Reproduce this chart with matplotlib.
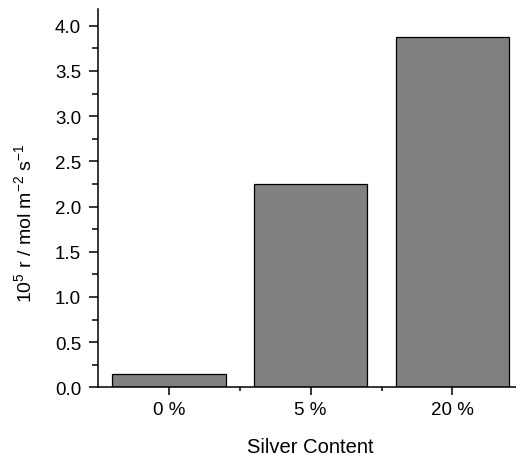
import matplotlib
matplotlib.use("Agg")
import matplotlib.pyplot as plt
from matplotlib.ticker import MultipleLocator, FixedLocator

categories = ["0 %", "5 %", "20 %"]
rates = [0.15, 2.25, 3.88]

plt.rcParams['font.family'] = ['Liberation Sans', 'DejaVu Sans']
plt.rcParams['mathtext.fontset'] = 'custom'
plt.rcParams['mathtext.rm'] = 'Liberation Sans'
plt.rcParams['mathtext.it'] = 'Liberation Sans'

fig = plt.figure(figsize=(5.16, 4.56), dpi=100)
ax = fig.add_axes([98/516, 1-388.3/456, (523.3-98)/516, (388.3-10)/456])

x = list(range(len(categories)))
ax.bar(x, rates, width=0.8, color="#808080", edgecolor="black", linewidth=0.9)

ax.set_xlim(-0.5, 2.5)
ax.set_ylim(0, 4.185)
ax.set_xticks(x)
ax.set_xticklabels(categories)
ax.xaxis.set_minor_locator(FixedLocator([0.5, 1.5]))
ax.yaxis.set_major_locator(MultipleLocator(0.5))
ax.yaxis.set_minor_locator(MultipleLocator(0.25))
ax.yaxis.set_major_formatter(plt.FormatStrFormatter('%.1f'))

for s in ['top', 'right']:
    ax.spines[s].set_visible(False)
for s in ['left', 'bottom']:
    ax.spines[s].set_linewidth(1.1)

ax.tick_params(axis='y', which='major', length=6.7, width=1.1, direction='out', labelsize=13.5, pad=5.5)
ax.tick_params(axis='y', which='minor', length=4.3, width=1.1, direction='out')
ax.tick_params(axis='x', which='major', length=5.8, width=1.1, direction='out', labelsize=13.5, pad=4)
ax.tick_params(axis='x', which='minor', length=3.2, width=1.1, direction='out')

ax.set_xlabel("Silver Content", fontsize=14.5)
ax.xaxis.set_label_coords((310 - 98) / 425.3, -(452.7 - 388.3) / 378.3)
ax.xaxis.label.set_va('baseline')

fig.text(24/516, 1-223/456, r"10$^{5}$ r / mol m$^{-2}$ s$^{-1}$", fontsize=14,
         rotation=90, ha='center', va='center')

fig.savefig("out.png", dpi=100)
